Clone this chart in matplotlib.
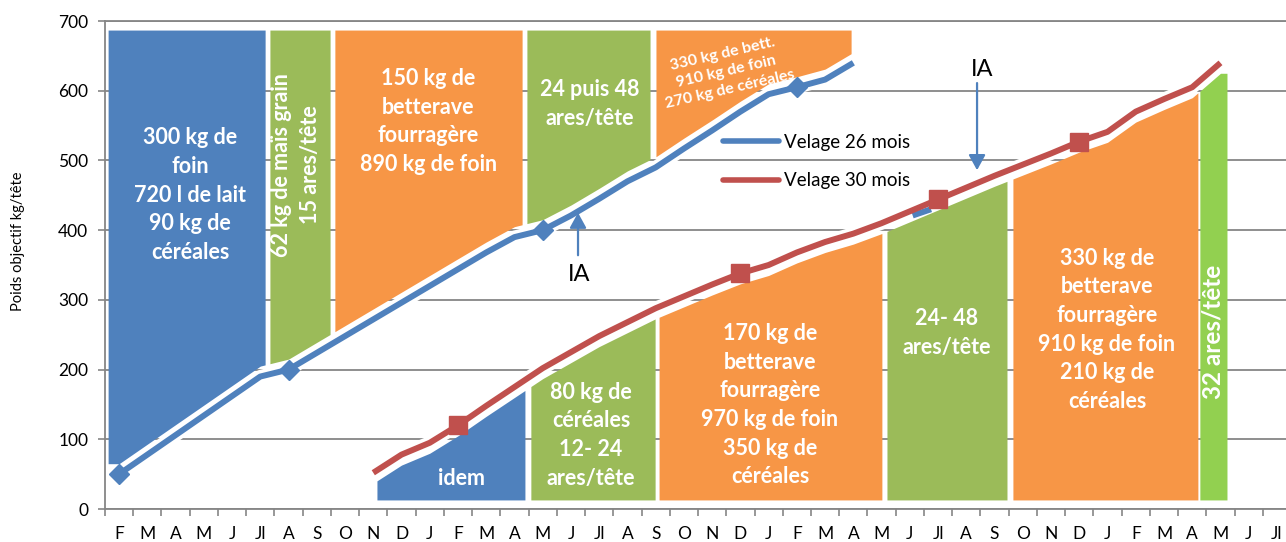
import numpy as np
import matplotlib
matplotlib.use("Agg")
import matplotlib.pyplot as plt
from matplotlib.lines import Line2D

plt.rcParams['font.family'] = ['Lato', 'DejaVu Sans']

# ---------------- data ----------------
months = ["F", "M", "A", "M", "J", "Jl", "A", "S", "O", "N", "D", "J",
          "F", "M", "A", "M", "J", "Jl", "A", "S", "O", "N", "D", "J",
          "F", "M", "A", "M", "J", "Jl", "A", "S", "O", "N", "D", "J",
          "F", "M", "A", "M", "J", "Jl"]

# Velage 26 mois (month index -> kg)
v26_idx = list(range(0, 27))
v26 = [50, 78, 106, 134, 162, 190, 200, 224, 248, 272, 296, 320, 344, 368, 390,
       400, 421, 445, 470, 490, 517, 543, 570, 595, 605, 616, 640]
v26_markers = [0, 6, 15, 24]

# Velage 30 mois
v30_idx = list(range(9, 40))
v30 = [52, 78, 95, 120, 148, 175, 202, 225, 248, 268, 288, 305, 322, 338, 350,
       368, 383, 395, 410, 427, 444, 461, 478, 494, 510, 527, 541, 570, 588, 605, 640]
v30_markers = [12, 22, 29, 34]

# short blue remnant near Jl (second year)
extra_x = [28.6, 29.25]
extra_y = [421, 430]

# feeding-period blocks above the 26-month curve
top_start = [0.11, 5.84, 8.14, 14.94, 19.51]
top_end = [5.67, 7.97, 14.77, 19.30, 26.42]
top_kind = ["blue", "green", "orange", "green", "orange"]
# feeding-period blocks below the 30-month curve
bot_start = [9.63, 15.08, 19.62, 27.69, 32.15, 38.77]
bot_end = [14.87, 19.48, 27.51, 31.94, 38.70, 39.73]
bot_kind = ["blue", "green", "orange", "green", "orange", "lime"]
block_top = 687
block_floor = 13

# block texts
texts_x = [3.01, 6.77, 11.44, 17.17, 12.64, 17.21, 23.55, 29.80, 35.48, 39.23]
texts_y = [450, 494, 556, 581, 44, 106, 149, 252, 257, 254]
texts = ["300 kg de\nfoin\n720 l de lait\n90 kg de\ncéréales",
         "62 kg de maïs grain\n15 ares/tête",
         "150 kg de\nbetterave\nfourragère\n890 kg de foin",
         "24 puis 48\nares/tête",
         "idem",
         "80 kg de\ncéréales\n12- 24\nares/tête",
         "170 kg de\nbetterave\nfourragère\n970 kg de foin\n350 kg de\ncéréales",
         "24- 48\nares/tête",
         "330 kg de\nbetterave\nfourragère\n910 kg de foin\n210 kg de\ncéréales",
         "32 ares/tête"]
texts_rot = [0, 90, 0, 0, 0, 0, 0, 0, 0, 90]
texts_size = [15.5, 15.5, 15.5, 15.5, 15.5, 15.5, 15.5, 15.5, 15.5, 17.5]

slanted_text = "330 kg de bett.\n910 kg de foin\n270 kg de céréales"
slanted_x, slanted_y, slanted_rot = 22.0, 627, 13

# IA arrows
ia_x = [16.75, 30.88]
ia_tail = [364, 611]
ia_tip = [425, 486]
ia_text_x = [16.78, 31.06]
ia_text_y = [336, 630]

legend_labels = ["Velage 26 mois", "Velage 30 mois"]

# ---------------- style ----------------
BLUE = "#4F81BD"
RED = "#C0504D"
GREEN = "#9BBB59"
ORANGE = "#F79646"
LIME = "#92D050"
GRAY = "#868686"
colors = {"blue": BLUE, "green": GREEN, "orange": ORANGE, "lime": LIME}
GAP = 15

fig = plt.figure(figsize=(12.86, 5.42), dpi=100)
ax = fig.add_axes([105 / 1286, 33 / 542, 42 * 28.24 / 1286, 488 / 542])
ax.set_xlim(0, 42)
ax.set_ylim(0, 700)

x26 = np.array(v26_idx) + 0.5
y26 = np.array(v26, dtype=float)
x30 = np.array(v30_idx) + 0.5
y30 = np.array(v30, dtype=float)

# blocks
for s, e, k in zip(top_start, top_end, top_kind):
    xx = np.linspace(s, e, 300)
    lower = np.interp(xx, x26, y26) + GAP
    ax.fill_between(xx, lower, block_top, color=colors[k], lw=0, zorder=2)
for s, e, k in zip(bot_start, bot_end, bot_kind):
    xx = np.linspace(s, e, 300)
    upper = np.interp(xx, x30, y30) - GAP
    ax.fill_between(xx, block_floor, upper, color=colors[k], lw=0, zorder=2)

# lines with white outline
ax.plot(x26, y26, color="white", lw=9.5, zorder=3, solid_capstyle="butt")
ax.plot(x26, y26, color=BLUE, lw=4.3, zorder=4, solid_capstyle="butt")
ax.plot(x30, y30, color="white", lw=9.5, zorder=3, solid_capstyle="butt")
ax.plot(extra_x, extra_y, color=BLUE, lw=4.3, zorder=3.5, solid_capstyle="butt")
ax.plot(x30, y30, color=RED, lw=4.3, zorder=4, solid_capstyle="butt")

mi = [v26_idx.index(m) for m in v26_markers]
ax.plot(x26[mi], y26[mi], linestyle="none", marker="D", ms=10, color=BLUE,
        mec=BLUE, zorder=5)
mi = [v30_idx.index(m) for m in v30_markers]
ax.plot(x30[mi], y30[mi], linestyle="none", marker="s", ms=12.5, color=RED,
        mec=RED, zorder=5)

# block texts
for tx, ty, t, r, fs in zip(texts_x, texts_y, texts, texts_rot, texts_size):
    ax.text(tx, ty, t, rotation=r, ha="center", va="center", color="white",
            fontsize=fs, fontweight="bold", linespacing=1.45, zorder=6,
            multialignment="center")
ax.text(slanted_x, slanted_y, slanted_text, rotation=slanted_rot,
        rotation_mode="anchor", ha="center", va="center", color="white",
        fontsize=11.5, fontweight="bold", linespacing=1.35, zorder=6)

# IA arrows
for x, t0, t1, tx, ty in zip(ia_x, ia_tail, ia_tip, ia_text_x, ia_text_y):
    ax.annotate("", xy=(x, t1), xytext=(x, t0),
                arrowprops=dict(arrowstyle="-|>,head_length=0.4,head_width=0.22",
                                color=BLUE, lw=1.6, mutation_scale=23,
                                shrinkA=0, shrinkB=0), zorder=6)
    ax.text(tx, ty, "IA", ha="center", va="center", fontsize=17, color="black",
            zorder=6)

# legend
handles = [Line2D([], [], color=BLUE, lw=4, solid_capstyle="round"),
           Line2D([], [], color=RED, lw=4, solid_capstyle="round")]
ax.legend(handles, legend_labels, loc="center left",
          bbox_to_anchor=((723 - 105) / 1186, (509 - 161.5) / 488),
          frameon=False, fontsize=13.5, handlelength=3.0, handletextpad=0.25,
          labelspacing=1.15, borderpad=0, borderaxespad=0)

# axes styling
ax.set_yticks(range(0, 701, 100))
ax.yaxis.grid(True, color=GRAY, lw=1.3, zorder=0)
ax.set_axisbelow(True)
ax.set_xticks(np.arange(0, 43))
ax.set_xticklabels([])
ax.set_xticks(np.arange(42) + 0.5, minor=True)
ax.set_xticklabels(months, minor=True)
ax.tick_params(axis="x", which="major", length=5, width=1.2, color=GRAY)
ax.tick_params(axis="x", which="minor", length=0, pad=12, labelsize=12.5)
ax.tick_params(axis="y", length=5, width=1.2, color=GRAY, pad=7, labelsize=12.5)
for side in ["right"]:
    ax.spines[side].set_visible(False)
for side in ["left", "bottom", "top"]:
    ax.spines[side].set_color(GRAY)
    ax.spines[side].set_linewidth(1.3)

fig.text(18 / 1286, 1 - 241 / 542, "Poids objectif kg/tête", rotation=90,
         ha="center", va="center", fontsize=10.5)

fig.savefig("out.png", dpi=100)
